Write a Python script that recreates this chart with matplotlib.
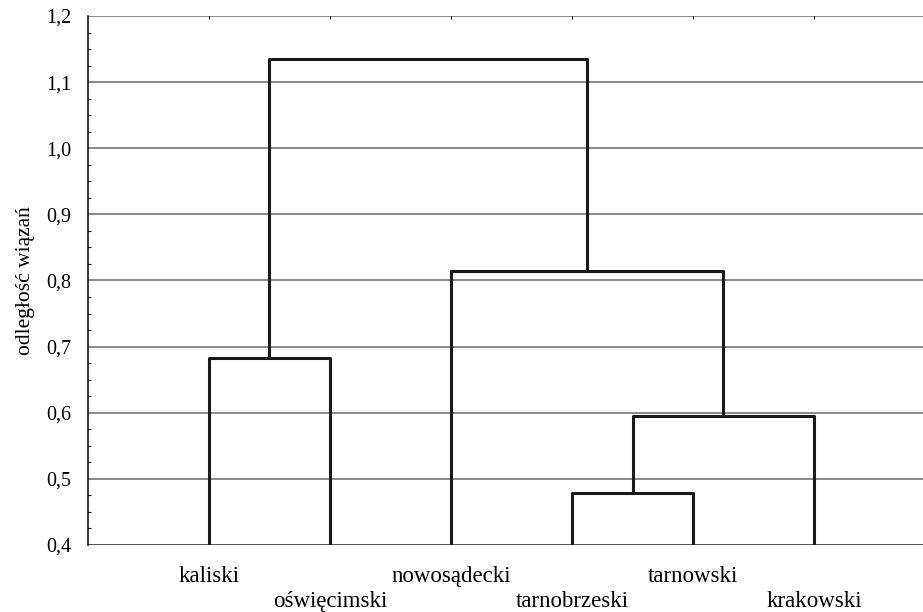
import matplotlib.pyplot as plt
from matplotlib.ticker import MultipleLocator, FuncFormatter

plt.rcParams['font.family'] = ['Liberation Serif', 'DejaVu Serif']

# liście drzewa (kolejność na osi X)
leaves = ["kaliski", "oświęcimski", "nowosądecki", "tarnobrzeski", "tarnowski", "krakowski"]
# łączenia: indeks lewy, indeks prawy, odległość wiązania (nowe skupienia od 6)
link_left = [3, 6, 2, 0, 9]
link_right = [4, 5, 7, 1, 8]
link_dist = [0.478, 0.595, 0.815, 0.683, 1.135]

y_min, y_max = 0.4, 1.2

fig = plt.figure(figsize=(9.23, 6.12), dpi=100)
ax = fig.add_axes([0.0953, 0.1095, 0.9047, 0.8644])

# pozycje i wysokości węzłów
xpos = {i: i + 1 for i in range(len(leaves))}
hgt = {i: y_min for i in range(len(leaves))}
for k, (a, b, d) in enumerate(zip(link_left, link_right, link_dist)):
    node = len(leaves) + k
    ax.plot([xpos[a], xpos[a], xpos[b], xpos[b]], [hgt[a], d, d, hgt[b]],
            color="#1a1a1a", lw=2.2, solid_capstyle="butt", zorder=3)
    xpos[node] = (xpos[a] + xpos[b]) / 2
    hgt[node] = d

ax.set_xlim(0, 6.9)
ax.set_ylim(y_min, y_max)

# siatka pozioma
for v in [0.5, 0.6, 0.7, 0.8, 0.9, 1.0, 1.1, 1.2]:
    ax.axhline(v, color="#6a6a6a", lw=1.1, zorder=1)
ax.axhline(y_min, color="#333333", lw=1.2, zorder=2)

for s in ["top", "right", "bottom"]:
    ax.spines[s].set_visible(False)
ax.spines["left"].set_linewidth(1.1)

ax.yaxis.set_major_locator(MultipleLocator(0.1))
ax.yaxis.set_minor_locator(MultipleLocator(0.025))
ax.yaxis.set_major_formatter(FuncFormatter(lambda v, p: f"{v:.1f}".replace(".", ",")))
ax.tick_params(axis="y", which="major", length=0, pad=12, labelsize=14.5)
ax.tick_params(axis="y", which="minor", direction="in", length=2.5, width=0.8)

ax.set_xticks(range(1, len(leaves) + 1))
ax.set_xticklabels(leaves, fontsize=16.5)
ax.tick_params(axis="x", which="major", direction="in", length=2.5, width=0.8,
               top=True, bottom=False, labelbottom=True)
for i, t in enumerate(ax.xaxis.get_major_ticks()):
    t.set_pad(15 if i % 2 == 0 else 33)

ax.set_ylabel("odległość wiązań", fontsize=15.5, labelpad=8)

fig.savefig("out.png", dpi=100)
